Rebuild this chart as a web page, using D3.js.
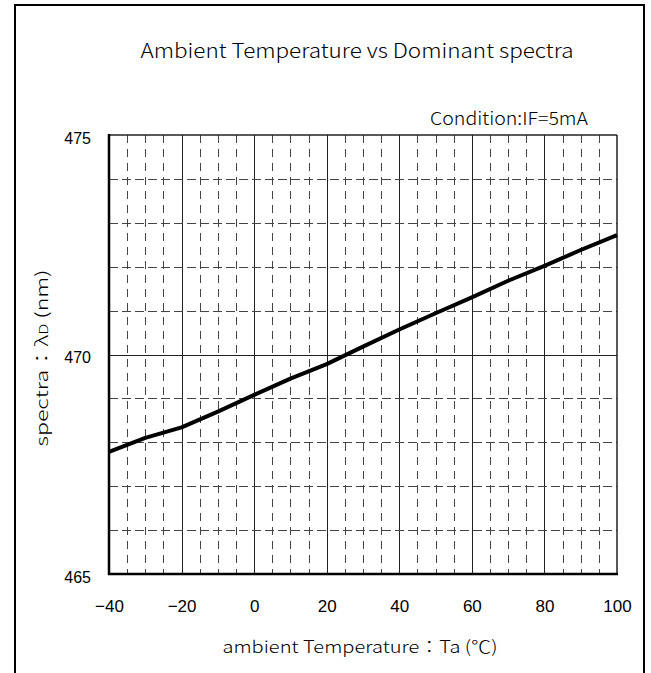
<!DOCTYPE html>
<html><head><meta charset="utf-8">
<script src="https://cdn.jsdelivr.net/npm/d3@7"></script>
<style>body{margin:0;background:#fff}svg{display:block}</style>
</head><body>
<script>
// ---- data ----
const temperatures = [-40, -30, -20, -10, 0, 10, 20, 30, 40, 50, 60, 70, 80, 90, 100];
const spectraNm    = [467.78, 468.10, 468.34, 468.70, 469.08, 469.45, 469.78, 470.18, 470.57, 470.94, 471.30, 471.68, 472.02, 472.38, 472.72];
const xTickValues  = [-40, -20, 0, 20, 40, 60, 80, 100];
const yTickValues  = [465, 470, 475];
const titleText    = "Ambient Temperature vs Dominant spectra";
const conditionText = "Condition:IF=5mA";
const xTitleText   = "ambient Temperature：Ta (℃)";

const W = 651, H = 673;
const svg = d3.select("body").append("svg").attr("width", W).attr("height", H);

// outer frame
svg.append("rect").attr("x", 15).attr("y", 5).attr("width", 629).attr("height", 720)
  .attr("fill", "none").attr("stroke", "#000").attr("stroke-width", 2);

const x = d3.scaleLinear().domain([-40, 100]).range([109, 617]);
const y = d3.scaleLinear().domain([465, 475]).range([574, 135]);

const g = svg.append("g");

// vertical grid
const vLines = d3.range(-35, 100, 5);
g.selectAll("line.v").data(vLines).join("line")
  .attr("x1", d => Math.round(x(d)) + 0.5).attr("x2", d => Math.round(x(d)) + 0.5)
  .attr("y1", y(475)).attr("y2", y(465))
  .attr("stroke", d => d % 20 === 0 ? "#222" : "#444")
  .attr("stroke-width", 1)
  .attr("stroke-dasharray", d => d % 20 === 0 ? null : "8,6");

// horizontal grid
const hLines = d3.range(466, 475, 1);
g.selectAll("line.h").data(hLines).join("line")
  .attr("y1", d => Math.round(y(d)) + 0.5).attr("y2", d => Math.round(y(d)) + 0.5)
  .attr("x1", x(-40)).attr("x2", x(100))
  .attr("stroke", d => d === 470 ? "#222" : "#444")
  .attr("stroke-width", 1)
  .attr("stroke-dasharray", d => d === 470 ? null : "9,4");

// plot frame
g.append("line").attr("x1", x(-40)).attr("x2", x(100)).attr("y1", y(475)).attr("y2", y(475)).attr("stroke", "#222").attr("stroke-width", 1.5);
g.append("line").attr("x1", x(100)).attr("x2", x(100)).attr("y1", y(475)).attr("y2", y(465)).attr("stroke", "#222").attr("stroke-width", 1.5);
g.append("line").attr("x1", x(-40)).attr("x2", x(-40)).attr("y1", y(475) - 1).attr("y2", y(465) + 1).attr("stroke", "#000").attr("stroke-width", 2.5);
g.append("line").attr("x1", x(-40) - 1).attr("x2", x(100) + 1).attr("y1", y(465)).attr("y2", y(465)).attr("stroke", "#000").attr("stroke-width", 2.5);

// curve
const line = d3.line().x((d, i) => x(temperatures[i])).y(d => y(d)).curve(d3.curveLinear);
g.append("path").datum(spectraNm).attr("d", line)
  .attr("fill", "none").attr("stroke", "#000").attr("stroke-width", 4).attr("stroke-linejoin", "round");

// axes tick labels
const xAxis = d3.axisBottom(x).tickValues(xTickValues).tickSize(0)
  .tickFormat(d => d < 0 ? "\u2212" + Math.abs(d) : String(d));
const xa = svg.append("g").attr("transform", `translate(0,${y(465)})`).call(xAxis);
xa.select(".domain").remove();
xa.selectAll("text").attr("y", 38).attr("dy", 0)
  .attr("font-family", "Liberation Sans, Arial, sans-serif").attr("font-size", 17).attr("fill", "#000");

const yAxis = d3.axisLeft(y).tickValues(yTickValues).tickSize(0).tickFormat(d => String(d));
const ya = svg.append("g").attr("transform", `translate(${x(-40)},0)`).call(yAxis);
ya.select(".domain").remove();
ya.selectAll("text").attr("x", -18).attr("dy", 8)
  .attr("font-family", "Liberation Sans, Arial, sans-serif").attr("font-size", 16).attr("fill", "#000");

// titles
const lbFont = "Noto Sans CJK JP, Noto Sans, sans-serif";
svg.append("text").attr("x", 357).attr("y", 58).attr("text-anchor", "middle")
  .attr("font-family", lbFont).attr("font-weight", 300).attr("font-size", 20).attr("fill", "#000")
  .attr("textLength", 433).attr("lengthAdjust", "spacingAndGlyphs").text(titleText);

svg.append("text").attr("x", 588).attr("y", 125).attr("text-anchor", "end")
  .attr("font-family", lbFont).attr("font-weight", 300).attr("font-size", 18).attr("fill", "#000")
  .attr("textLength", 158).attr("lengthAdjust", "spacingAndGlyphs").text(conditionText);

svg.append("text").attr("x", 360).attr("y", 653).attr("text-anchor", "middle")
  .attr("font-family", lbFont).attr("font-weight", 300).attr("font-size", 17).attr("fill", "#000")
  .attr("textLength", 275).attr("lengthAdjust", "spacingAndGlyphs").text(xTitleText);

const yt = svg.append("text").attr("transform", "translate(48,358) rotate(-90)")
  .attr("text-anchor", "middle").attr("font-family", lbFont).attr("font-weight", 300).attr("font-size", 17).attr("fill", "#000")
  .attr("textLength", 177).attr("lengthAdjust", "spacingAndGlyphs");
yt.append("tspan").text("spectra：λ");
yt.append("tspan").attr("font-size", 12).text("D");
yt.append("tspan").text(" (nm)");
</script>
</body></html>
